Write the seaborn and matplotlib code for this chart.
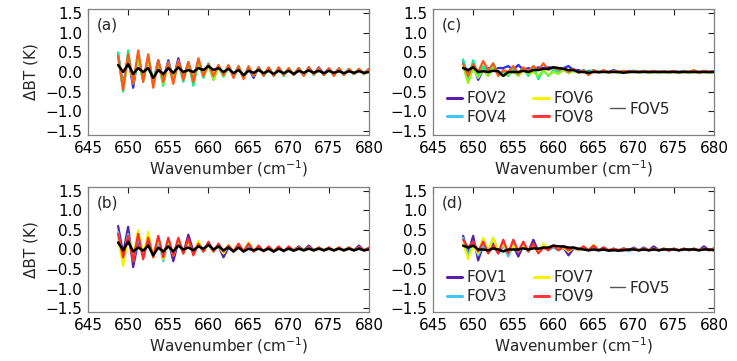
import numpy as np
import pandas as pd
import matplotlib
matplotlib.use("Agg")
import matplotlib.pyplot as plt
from matplotlib.lines import Line2D
import seaborn as sns

# ---------------- data ----------------
wavenumber = np.arange(648.75, 680.01, 0.625)  # CrIS LW channel grid

# panel (a)
a_blue = [0.45,-0.35,0.40,-0.40,0.40,-0.20,0.35,-0.25,0.30,-0.20,0.30,-0.20,0.35,-0.15,0.25,-0.20,0.30,-0.10,0.20,-0.12,0.15,-0.10,0.15,-0.08,0.12,-0.12,0.10,-0.15,0.12,-0.08,0.10,-0.08,0.10,-0.06,0.08,-0.06,0.10,-0.08,0.12,-0.06,0.12,-0.05,0.08,-0.06,0.08,-0.05,0.06,-0.05,0.06,-0.04,0.08]
a_green = [0.50,-0.50,0.55,-0.30,0.35,-0.25,0.40,-0.30,0.25,-0.35,0.25,-0.25,0.25,-0.25,0.25,-0.35,0.25,-0.15,0.22,-0.20,0.15,-0.12,0.15,-0.10,0.15,-0.12,0.12,-0.10,0.12,-0.10,0.10,-0.10,0.10,-0.10,0.10,-0.08,0.10,-0.08,0.10,-0.08,0.10,-0.08,0.08,-0.06,0.08,-0.08,0.08,-0.06,0.08,-0.06,0.06]
a_lime = [0.35,-0.40,0.30,-0.25,0.30,-0.20,0.30,-0.25,0.25,-0.30,0.20,-0.20,0.25,-0.15,0.20,-0.20,0.25,-0.10,0.15,-0.20,0.12,-0.10,0.12,-0.08,0.10,-0.10,0.10,-0.08,0.10,-0.08,0.08,-0.06,0.08,-0.06,0.08,-0.06,0.08,-0.06,0.08,-0.06,0.06,-0.05,0.06,-0.05,0.06,-0.05,0.06,-0.04,0.05,-0.04,0.05]
a_orange = [0.40,-0.45,0.45,-0.30,0.55,-0.25,0.45,-0.40,0.30,-0.25,0.25,-0.30,0.30,-0.20,0.25,-0.25,0.35,-0.10,0.20,-0.10,0.18,-0.08,0.18,-0.15,0.15,-0.18,0.15,-0.10,0.12,-0.10,0.12,-0.10,0.12,-0.08,0.10,-0.08,0.10,-0.10,0.12,-0.06,0.10,-0.08,0.10,-0.10,0.10,-0.08,0.08,-0.05,0.08,-0.05,0.08]
a_fov5 = [0.18,0.00,0.20,-0.05,0.10,0.00,0.10,-0.15,0.05,-0.05,0.10,-0.02,0.12,0.00,0.05,0.00,0.10,0.05,0.15,0.05,0.10,0.00,0.08,-0.03,0.05,-0.08,0.03,-0.02,0.05,-0.03,0.03,-0.05,0.03,-0.03,0.03,-0.05,0.03,-0.02,0.04,-0.02,0.03,-0.03,0.03,-0.02,0.02,-0.03,0.02,-0.02,0.02,-0.02,0.00]

# panel (c)
c_blue = [0.25,-0.05,0.20,-0.20,0.05,0.10,0.05,0.10,0.10,0.15,0.05,0.18,0.05,0.10,0.05,0.12,0.10,0.12,0.10,0.08,0.10,0.15,0.05,0.05,0.00,0.03,0.02,0.00,0.02,0.00,0.05,0.00,0.02,0.02,0.03,0.00,0.03,0.00,0.02,0.00,0.02,0.00,0.02,0.00,0.02,0.00,0.02,0.00,0.02,0.00,0.02]
c_green = [0.32,-0.20,0.30,-0.10,0.15,-0.05,0.22,-0.05,0.00,-0.10,0.10,-0.05,0.10,-0.10,0.15,-0.18,0.05,-0.10,0.05,0.00,0.10,0.00,0.08,-0.02,0.05,0.00,0.05,-0.02,0.03,-0.02,0.02,-0.02,0.02,0.00,0.03,-0.02,0.02,-0.02,0.02,0.00,0.02,-0.02,0.02,-0.02,0.03,-0.02,0.02,-0.02,0.02,-0.02,0.02]
c_lime = [0.15,-0.28,0.10,-0.15,0.05,-0.10,0.10,-0.05,-0.10,-0.05,0.00,-0.10,0.05,-0.05,0.00,-0.10,0.05,-0.08,0.00,-0.05,0.05,-0.03,0.02,-0.02,0.02,-0.03,0.02,-0.02,0.02,-0.02,0.02,-0.03,0.02,-0.02,0.02,-0.02,0.02,-0.03,0.00,-0.02,0.00,-0.02,0.00,-0.03,0.00,-0.02,0.00,-0.02,0.00,-0.02,0.00]
c_orange = [0.20,-0.10,0.20,0.00,0.28,0.05,0.22,-0.10,0.05,0.00,0.15,-0.05,0.12,0.02,0.15,0.05,0.22,0.05,0.12,0.05,0.10,0.00,0.08,-0.02,0.05,-0.08,0.05,-0.02,0.05,-0.02,0.03,0.00,0.03,0.00,0.02,0.00,0.02,0.00,0.03,0.00,0.02,0.00,0.03,-0.02,0.02,0.00,0.05,-0.02,0.03,0.00,0.02]
c_fov5 = [0.10,0.05,0.12,0.00,0.02,0.00,0.03,0.02,-0.10,0.00,0.00,0.00,0.03,0.00,0.05,0.05,0.08,0.08,0.12,0.10,0.08,0.05,0.05,0.00,0.00,-0.02,0.00,0.00,0.00,0.00,0.00,0.00,-0.02,0.00,0.00,0.00,0.00,0.00,0.00,0.00,0.00,0.00,0.00,0.00,0.00,0.00,0.00,0.00,0.00,0.00,0.00]

# panel (b)
b_fov1 = [0.60,-0.10,0.58,-0.45,0.20,-0.10,0.20,-0.15,0.25,-0.20,0.25,-0.30,0.20,-0.10,0.38,-0.05,0.15,-0.05,0.15,-0.05,0.10,-0.20,0.05,-0.05,0.12,-0.05,0.12,-0.05,0.05,-0.03,0.05,-0.05,0.05,-0.03,0.05,-0.02,0.08,-0.02,0.10,-0.02,0.05,-0.02,0.05,-0.03,0.05,-0.02,0.05,-0.02,0.10,-0.02,0.03]
b_fov3 = [0.45,-0.25,0.40,-0.30,0.30,-0.20,0.30,-0.15,0.25,-0.30,0.20,-0.15,0.20,-0.10,0.20,-0.10,0.15,-0.05,0.12,-0.05,0.10,-0.10,0.08,-0.05,0.10,-0.05,0.10,-0.03,0.05,-0.03,0.05,-0.03,0.05,-0.05,0.05,-0.03,0.05,-0.03,0.05,-0.03,0.05,-0.02,0.03,-0.02,0.03,-0.02,0.03,-0.02,0.03,-0.02,0.02]
b_fov7 = [0.30,-0.42,0.30,-0.20,0.50,-0.15,0.45,-0.20,0.30,-0.25,0.25,-0.15,0.25,-0.10,0.20,-0.10,0.22,-0.05,0.15,-0.05,0.10,-0.10,0.12,-0.05,0.10,-0.05,0.18,-0.05,0.08,-0.05,0.05,-0.03,0.05,-0.03,0.05,-0.03,0.05,-0.03,0.05,-0.03,0.05,-0.03,0.05,-0.02,0.05,-0.03,0.05,-0.02,0.05,-0.02,0.03]
b_fov9 = [0.40,-0.20,0.35,-0.30,0.40,-0.25,0.30,-0.20,0.35,-0.20,0.30,-0.15,0.30,-0.10,0.28,-0.15,0.15,-0.05,0.20,-0.05,0.15,-0.05,0.10,-0.05,0.15,-0.05,0.15,-0.05,0.10,-0.05,0.08,-0.05,0.08,-0.05,0.08,-0.03,0.05,-0.03,0.05,-0.03,0.05,-0.03,0.05,-0.03,0.05,-0.03,0.05,-0.03,0.05,-0.03,0.05]
b_fov5 = [0.18,-0.02,0.20,-0.05,0.05,-0.03,0.10,-0.15,0.05,-0.05,0.08,-0.05,0.10,0.00,0.05,-0.02,0.08,0.02,0.12,0.00,0.08,-0.02,0.05,-0.05,0.05,-0.05,0.02,-0.02,0.02,-0.03,0.02,-0.05,0.02,-0.03,0.02,-0.03,0.02,-0.02,0.02,-0.02,0.02,-0.02,0.02,-0.02,0.02,-0.02,0.02,-0.02,0.02,-0.02,0.00]

# panel (d)
d_fov1 = [0.35,-0.10,0.35,-0.28,0.10,-0.05,0.15,-0.10,0.10,-0.05,0.10,-0.18,0.10,-0.05,0.25,-0.05,0.10,0.00,0.08,0.00,0.05,-0.15,0.02,0.00,0.05,-0.02,0.05,-0.02,0.05,-0.02,0.02,-0.02,0.02,-0.02,0.05,-0.02,0.05,-0.02,0.08,-0.02,0.02,-0.02,0.02,-0.02,0.02,-0.02,0.02,-0.02,0.08,-0.02,0.02]
d_fov3 = [0.30,-0.15,0.20,-0.15,0.10,-0.05,0.30,-0.05,0.10,-0.18,0.10,-0.05,0.10,-0.05,0.10,-0.05,0.10,0.00,0.05,-0.02,0.05,-0.05,0.03,-0.02,0.03,-0.02,0.03,-0.02,0.02,-0.02,0.02,-0.02,0.02,-0.05,0.02,-0.02,0.02,-0.02,0.02,-0.02,0.02,-0.02,0.02,-0.02,0.02,-0.02,0.02,-0.02,0.02,-0.02,0.02]
d_fov7 = [0.15,-0.25,0.10,-0.10,0.30,-0.05,0.30,-0.05,0.15,-0.10,0.10,-0.05,0.10,-0.05,0.10,-0.05,0.15,0.00,0.10,0.00,0.05,-0.05,0.05,-0.02,0.05,-0.02,0.12,-0.02,0.02,-0.02,0.02,-0.02,0.02,-0.02,0.02,-0.02,0.02,-0.02,0.02,-0.02,0.02,-0.02,0.02,-0.02,0.02,-0.02,0.02,-0.02,0.02,-0.02,0.02]
d_fov9 = [0.25,0.05,0.20,-0.05,0.20,-0.10,0.10,-0.10,0.25,-0.10,0.25,-0.05,0.20,-0.05,0.15,-0.10,0.05,-0.02,0.10,-0.02,0.08,-0.02,0.05,0.00,0.08,-0.02,0.10,-0.02,0.05,-0.02,0.02,-0.02,0.03,-0.02,0.02,-0.02,0.02,-0.02,0.02,-0.02,0.02,-0.03,0.02,-0.02,0.02,-0.02,0.02,-0.02,0.02,-0.02,0.03]
d_fov5 = [0.10,0.05,0.10,0.00,0.00,-0.02,0.03,0.00,-0.05,0.00,0.00,0.00,0.03,0.00,0.03,0.02,0.05,0.05,0.10,0.08,0.08,0.05,0.05,0.02,0.00,-0.02,0.00,-0.02,0.00,-0.03,-0.02,-0.03,-0.02,0.00,0.00,-0.02,0.00,-0.02,0.00,-0.02,0.00,0.00,0.00,-0.02,0.00,0.00,0.00,-0.02,0.00,0.00,-0.02]

xticks = [645, 650, 655, 660, 665, 670, 675, 680]
yticks = [-1.5, -1.0, -0.5, 0.0, 0.5, 1.0, 1.5]
legend_c = ["FOV2", "FOV4", "FOV6", "FOV8"]
legend_d = ["FOV1", "FOV3", "FOV7", "FOV9"]

# ---------------- style ----------------
sns.set_style("white")
plt.rcParams["font.family"] = ["DejaVu Sans"]
FS = 11

col_ac = ["#2a2aff", "#10f090", "#90f020", "#ff5a14"]
col_bd = ["#5a1ea8", "#3cc8ff", "#f4f400", "#ff2a2a"]
legend_cols = ["#5a1ea8", "#3cc8ff", "#f4f400", "#ff3a3a"]

fig = plt.figure(figsize=(7.37, 3.61), dpi=100)
W, H = 737, 361
def ax_at(l, t, r, b):
    return fig.add_axes([l / W, 1 - b / H, (r - l) / W, (b - t) / H])

axes = {
    "a": ax_at(88, 9, 369, 135),
    "c": ax_at(433, 9, 714, 135),
    "b": ax_at(88, 187, 369, 312),
    "d": ax_at(433, 187, 714, 312),
}

panels = {
    "a": ([a_blue, a_green, a_lime, a_orange], col_ac, a_fov5),
    "c": ([c_blue, c_green, c_lime, c_orange], col_ac, c_fov5),
    "b": ([b_fov1, b_fov3, b_fov7, b_fov9], col_bd, b_fov5),
    "d": ([d_fov1, d_fov3, d_fov7, d_fov9], col_bd, d_fov5),
}
labels = {"a": "(a)", "c": "(c)", "b": "(b)", "d": "(d)"}

for key, ax in axes.items():
    series, cols, fov5 = panels[key]
    frames = []
    for k, s in enumerate(series):
        frames.append(pd.DataFrame({"wn": wavenumber, "dbt": s, "sid": f"s{k}"}))
    df = pd.concat(frames, ignore_index=True)
    sns.lineplot(data=df, x="wn", y="dbt", hue="sid",
                 palette={f"s{k}": c for k, c in enumerate(cols)},
                 linewidth=1.6, legend=False, ax=ax, estimator=None)
    sns.lineplot(x=wavenumber, y=fov5, color="black", linewidth=1.8, ax=ax, estimator=None)

    ax.set_xlim(645, 680)
    ax.set_ylim(-1.6, 1.6)
    ax.set_xticks(xticks)
    ax.set_yticks(yticks)
    ax.set_yticklabels([f"{v:.1f}".replace("-", "\u2212") for v in yticks])
    ax.tick_params(direction="in", length=4, width=0.8, top=True, right=True,
                   labelsize=FS, colors="#222222", labelcolor="black", pad=4)
    for sp in ax.spines.values():
        sp.set_color("#808080")
        sp.set_linewidth(0.9)
    ax.set_xlabel("Wavenumber (cm$^{-1}$)", fontsize=FS, labelpad=2)
    if key in ("a", "b"):
        ax.set_ylabel("\u0394BT (K)", fontsize=FS, labelpad=5)
    else:
        ax.set_ylabel("")
    ax.text(0.03, 0.87, labels[key], transform=ax.transAxes, fontsize=FS,
            ha="left", va="center")

# legends
for key, names, ypos in (("c", legend_c, 0.215), ("d", legend_d, 0.20)):
    ax = axes[key]
    handles = [Line2D([], [], color=c, linewidth=2.2) for c in legend_cols]
    leg = ax.legend(handles, names,
                    ncol=2, loc="center left", bbox_to_anchor=(0.05, ypos),
                    frameon=False, handlelength=1.0, handletextpad=0.3,
                    columnspacing=1.7, labelspacing=0.25, borderpad=0,
                    borderaxespad=0, fontsize=FS)
    ax.add_artist(leg)
    h5 = Line2D([], [], color="#555555", linewidth=1.0)
    ax.legend([h5], ["FOV5"], loc="center left", bbox_to_anchor=(0.63, ypos - 0.01),
              frameon=False, handlelength=1.0, handletextpad=0.3, borderpad=0,
              borderaxespad=0, fontsize=FS)

fig.savefig("out.png", dpi=100)
